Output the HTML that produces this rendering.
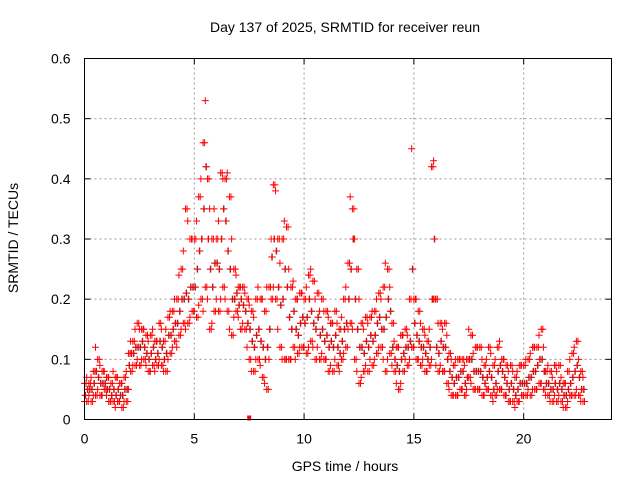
<!DOCTYPE html>
<html><head><meta charset="utf-8"><style>
body{margin:0;background:#fff;}
svg{display:block;font-family:"Liberation Sans",sans-serif;}
</style></head><body>
<svg id="chart" width="640" height="480">
<text x="345" y="32" text-anchor="middle" font-size="14">Day 137 of 2025, SRMTID for receiver reun</text>
<text x="345" y="471" text-anchor="middle" font-size="14">GPS time / hours</text>
<text transform="translate(18,238) rotate(-90)" text-anchor="middle" font-size="14">SRMTID / TECUs</text>
<g id="grid"></g><g id="ticks"></g><g id="marks"></g>
<rect x="84.5" y="58.5" width="527" height="361" fill="none" stroke="#000" stroke-width="1"/>
</svg>
<script>
const xTicks=[0,5,10,15,20];
const yTicks=[0,0.1,0.2,0.3,0.4,0.5,0.6];
const yTickLabels=["0","0.1","0.2","0.3","0.4","0.5","0.6"];
const lo=[.03,.03,.04,.03,.04,.04,.05,.04,.04,.05, .04,.03,.03,.03,.02,.03,.03,.02,.03,.03, .05,.08,.09,.09,.1,.09,.1,.1,.09,.08, .08,.09,.08,.09,.1,.09,.08,.08,.1,.11, .12,.13,.12,.14,.15,.16,.15,.16,.17,.18, .18,.17,.19,.2,.18,.22,.2,.15,.16,.18, .2,.18,.2,.22,.2,.18,.15,.14,.17,.18, .17,.15,.16,.15,.12,.1,.08,.08,.1,.1, .09,.07,.06,.05,.1,.2,.22,.2,.15,.12, .1,.1,.1,.1,.1,.12,.1,.11,.12,.12, .12,.11,.12,.13,.12,.1,.12,.1,.11,.1, .1,.08,.09,.08,.1,.09,.08,.1,.11,.12, .15,.16,.15,.1,.08,.06,.07,.08,.09,.08, .1,.09,.1,.11,.12,.12,.1,.08,.1,.11, .09,.08,.06,.05,.06,.08,.1,.09,.1,.12, .12,.1,.1,.09,.1,.08,.08,.09,.1,.2, .09,.08,.09,.08,.08,.06,.05,.04,.04,.04, .04,.05,.05,.04,.05,.07,.06,.05,.05,.05, .05,.04,.04,.05,.05,.04,.03,.04,.05,.05, .05,.04,.04,.03,.03,.03,.02,.03,.03,.04, .04,.04,.05,.04,.05,.05,.05,.06,.06,.05, .04,.04,.03,.03,.04,.03,.04,.03,.02,.02, .03,.04,.04,.04,.05,.04,.03,.03];
const mid=[.04,.05,.05,.05,.06,.08,.07,.06,.06,.06, .05,.05,.04,.05,.04,.05,.04,.04,.05,.05, .09,.11,.11,.12,.12,.12,.13,.12,.11,.1, .11,.12,.1,.11,.13,.12,.1,.11,.14,.14, .15,.16,.16,.18,.2,.2,.21,.2,.22,.22, .22,.25,.28,.3,.35,.42,.3,.25,.22,.26, .26,.25,.3,.35,.33,.28,.25,.2,.2,.21, .19,.2,.19,.18,.16,.15,.13,.12,.14,.15, .13,.12,.1,.12,.15,.27,.3,.28,.22,.19, .2,.25,.22,.17,.15,.18,.15,.14,.16,.17, .16,.17,.2,.18,.16,.15,.17,.14,.15,.13, .14,.12,.13,.12,.14,.12,.11,.13,.15,.16, .2,.25,.3,.2,.15,.12,.12,.11,.13,.12, .14,.13,.14,.16,.17,.15,.15,.17,.2,.18, .12,.1,.09,.08,.1,.11,.12,.12,.13,.25, .16,.14,.13,.12,.12,.11,.1,.12,.2,.3, .12,.11,.13,.12,.12,.1,.08,.07,.06,.07, .07,.08,.08,.06,.07,.1,.1,.08,.08,.08, .08,.07,.06,.07,.08,.07,.05,.06,.08,.09, .08,.07,.06,.05,.06,.05,.04,.05,.06,.06, .06,.06,.07,.07,.08,.08,.09,.1,.1,.08, .06,.06,.05,.05,.06,.05,.06,.05,.04,.04, .05,.06,.07,.08,.09,.07,.05,.05];
const hi=[.06,.07,.06,.07,.08,.12,.10,.09,.08,.08, .07,.07,.06,.08,.07,.07,.06,.06,.07,.08, .11,.13,.13,.15,.16,.15,.15,.15,.14,.13, .14,.15,.13,.13,.16,.15,.13,.15,.17,.18, .18,.2,.2,.24,.25,.28,.35,.33,.3,.3, .3,.33,.37,.4,.46,.53,.4,.35,.3,.35, .3,.33,.41,.4,.4,.41,.37,.3,.25,.24, .22,.22,.22,.21,.2,.19,.18,.17,.2,.22, .2,.2,.18,.22,.22,.3,.39,.38,.3,.26, .3,.33,.32,.25,.22,.23,.2,.2,.21,.21, .2,.22,.24,.25,.23,.2,.21,.18,.2,.18, .18,.17,.16,.16,.18,.16,.15,.17,.2,.22, .26,.37,.35,.3,.25,.2,.16,.15,.17,.16, .17,.18,.18,.2,.21,.2,.22,.26,.25,.22, .16,.13,.12,.12,.14,.14,.15,.14,.2,.45, .2,.2,.18,.16,.15,.14,.13,.15,.42,.43, .2,.16,.16,.15,.16,.14,.11,.1,.09,.1, .1,.1,.1,.09,.1,.15,.14,.11,.12,.12, .12,.1,.09,.1,.12,.11,.09,.1,.12,.13, .1,.1,.09,.08,.09,.08,.07,.08,.09,.09, .09,.1,.1,.11,.12,.12,.12,.14,.15,.12, .08,.09,.08,.07,.09,.08,.09,.07,.06,.06, .08,.1,.11,.12,.13,.1,.08,.07];
const outlierT=[7.5], outlierV=[0];
const NS="http://www.w3.org/2000/svg";
const X0=84.5,X1=611.5,Y0=419.5,Y1=58.5;
const xs=t=>X0+t/24*(X1-X0);
const ys=v=>Y0-v/0.6*(Y0-Y1);
const grid=document.getElementById('grid'),ticks=document.getElementById('ticks'),marks=document.getElementById('marks');
function mk(tag,a,p){const e=document.createElementNS(NS,tag);for(const k in a)e.setAttribute(k,a[k]);p.appendChild(e);return e;}
yTicks.forEach((v,i)=>{const y=ys(v);
 if(i>0&&i<yTicks.length-1){const g=mk('line',{x1:X0,x2:X1,y1:y,y2:y,stroke:'#999','stroke-dasharray':'2,3'},grid);
 
 }
 const t=mk('text',{x:X0-14,y:y+5,'text-anchor':'end','font-size':14},ticks);t.textContent=yTickLabels[i];
 
 
 mk('line',{x1:X0,x2:X0+6,y1:y,y2:y,stroke:'#000'},ticks);mk('line',{x1:X1,x2:X1-6,y1:y,y2:y,stroke:'#000'},ticks);});
xTicks.forEach(v=>{const x=xs(v);
 if(v>0){const g=mk('line',{x1:x,x2:x,y1:Y0,y2:Y1,stroke:'#999','stroke-dasharray':'2,3'},grid);
 
 }
 const t=mk('text',{x:x,y:Y0+24,'text-anchor':'middle','font-size':14},ticks);t.textContent=v;
 
 
 mk('line',{x1:x,x2:x,y1:Y0,y2:Y0-6,stroke:'#000'},ticks);mk('line',{x1:x,x2:x,y1:Y1,y2:Y1+6,stroke:'#000'},ticks);});
function plus(t,v,c){const x=xs(t),y=ys(v);
 const p=mk('path',{d:`M${x-3.5},${y}h7M${x},${y-3.5}v7`,stroke:c,'stroke-width':1,fill:'none'},marks);
 
 }
for(let i=0;i<mid.length;i++){const t=i*0.1;
 plus(t+0.05,mid[i],'#444');
 plus(t,lo[i],'#f00');plus(t,hi[i],'#f00');plus(t+0.03,mid[i],'#f00');
 plus(t+0.07,(i%2?lo[i]:hi[i]),'#f00');}
outlierT.forEach((t,i)=>{const r=mk('rect',{x:xs(t)-2,y:ys(outlierV[i])-4,width:4,height:5,fill:'#f00'},marks);
 
 });
</script>
</body></html>
